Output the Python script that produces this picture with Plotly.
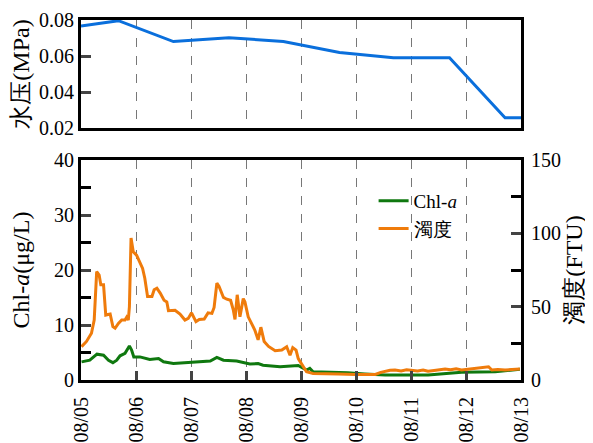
import pandas as pd
import plotly.graph_objects as go

BASE = pd.Timestamp("2023-08-05")

# Water pressure (MPa)
pressure_day = [0.0, 0.68, 1.68, 2.69, 3.68, 4.70, 5.68, 6.70, 7.71, 8.0]
pressure_val = [0.0767, 0.0796, 0.068, 0.0702, 0.068, 0.062, 0.059, 0.059, 0.0257, 0.0257]

# Chl-a (ug/L)
chl_day = [0.01, 0.16, 0.29, 0.41, 0.50, 0.58, 0.65, 0.71, 0.80, 0.88, 0.92, 0.96, 1.07, 1.25,
           1.41, 1.50, 1.68, 2.04, 2.35, 2.47, 2.59, 2.83, 3.07, 3.22, 3.31, 3.62, 3.86, 3.95,
           4.10, 4.16, 4.22, 4.45, 4.68, 4.85, 5.16, 5.53, 6.31, 6.92, 7.53, 7.98]
chl_val = [3.3, 3.6, 4.7, 4.5, 3.6, 3.15, 3.6, 4.4, 4.85, 6.2, 5.45, 4.2, 4.2, 3.75,
           3.9, 3.3, 3.0, 3.3, 3.45, 4.1, 3.6, 3.45, 2.9, 3.0, 2.7, 2.4, 2.6, 2.65,
           1.8, 2.1, 1.5, 1.45, 1.35, 1.3, 1.1, 0.9, 0.9, 1.4, 1.5, 1.95]

# Turbidity (FTU)
turb_day = [0.01, 0.10, 0.19, 0.24, 0.285, 0.33, 0.36, 0.41, 0.45, 0.53, 0.58, 0.62, 0.68, 0.74,
            0.80, 0.83, 0.86, 0.88, 0.91, 0.95, 1.01, 1.07, 1.12, 1.16, 1.21, 1.29, 1.33, 1.38,
            1.44, 1.51, 1.56, 1.59, 1.71, 1.80, 1.89, 1.95, 2.01, 2.09, 2.15, 2.24, 2.31, 2.38,
            2.42, 2.47, 2.51, 2.59, 2.65, 2.72, 2.77, 2.80, 2.84, 2.89, 2.95, 2.98, 3.04, 3.10,
            3.16, 3.22, 3.27, 3.33, 3.41, 3.53, 3.65, 3.74, 3.80, 3.85, 3.91, 3.95, 4.04, 4.10,
            4.22, 4.47, 4.68, 5.00, 5.35, 5.45, 5.53, 5.62, 5.71, 5.82, 5.92, 6.01, 6.12, 6.22,
            6.31, 6.42, 6.52, 6.62, 6.72, 6.82, 6.92, 7.04, 7.16, 7.28, 7.41, 7.47, 7.58, 7.71,
            7.85, 7.98]
turb_val = [22.7, 26.3, 31.9, 40.9, 73.9, 71.6, 64.9, 64.9, 44.3, 45.0, 36.4, 35.3, 38.6, 40.9,
            40.9, 42.8, 40.9, 49.9, 96.8, 87.4, 85.1, 79.5, 76.1, 69.4, 57.0, 57.0, 61.5, 62.6,
            59.3, 54.4, 53.3, 47.3, 47.6, 45.0, 40.9, 42.0, 45.8, 39.8, 41.3, 41.6, 45.8, 45.4,
            49.5, 66.0, 63.8, 56.3, 55.1, 54.4, 47.6, 41.3, 58.1, 43.1, 55.5, 53.3, 43.1, 38.6,
            34.1, 27.4, 36.0, 26.3, 22.9, 19.9, 20.4, 22.7, 16.9, 22.1, 20.4, 14.6, 9.0, 5.6,
            4.5, 4.1, 4.1, 3.8, 3.8, 5.2, 6.0, 6.6, 6.8, 6.2, 7.0, 6.8, 6.2, 6.8,
            6.0, 6.5, 7.2, 7.5, 7.0, 7.6, 6.8, 7.4, 7.9, 8.2, 9.0, 6.8, 7.2, 6.8,
            7.2, 7.5]

x_ticks = ["08/05", "08/06", "08/07", "08/08", "08/09", "08/10", "08/11", "08/12", "08/13"]


def to_time(days):
    return [BASE + pd.Timedelta(days=d) for d in days]


SERIF = "Times New Roman, Liberation Serif, DejaVu Serif, serif"
BLUE = "#0a6fdc"
GREEN = "#0f780f"
ORANGE = "#ef7b0b"

fig = go.Figure()
fig.add_trace(go.Scatter(x=to_time(pressure_day), y=pressure_val, mode="lines",
                         line=dict(color=BLUE, width=3), xaxis="x", yaxis="y",
                         showlegend=False))
fig.add_trace(go.Scatter(x=to_time(chl_day), y=chl_val, mode="lines", name="Chl-<i>a</i>",
                         line=dict(color=GREEN, width=3), xaxis="x2", yaxis="y2"))
fig.add_trace(go.Scatter(x=to_time(turb_day), y=turb_val, mode="lines", name="濁度",
                         line=dict(color=ORANGE, width=3), xaxis="x2", yaxis="y3"))

tickvals = [BASE + pd.Timedelta(days=i) for i in range(len(x_ticks))]
xrange = [BASE, BASE + pd.Timedelta(days=8)]
grid = dict(showgrid=True, gridcolor="#777777", gridwidth=1, griddash="dash")

fig.update_layout(
    width=585, height=435,
    margin=dict(l=73, r=72, t=12, b=63),
    plot_bgcolor="white", paper_bgcolor="white",
    font=dict(family=SERIF, size=20, color="black"),
    xaxis=dict(domain=[0, 1], anchor="y", range=xrange, tickvals=tickvals,
               showticklabels=False, ticks="", showline=True, linecolor="black",
               linewidth=3, mirror=True, zeroline=False, automargin=False, **grid),
    yaxis=dict(domain=[0.70, 1.0], anchor="x", range=[0.02, 0.08], dtick=0.02,
               tickformat=".2f", ticks="inside", ticklen=10, tickwidth=3,
               showline=True, linecolor="black", linewidth=3, mirror=True,
               showgrid=False, zeroline=False, automargin=False,
               title=dict(text="水压(MPa)", standoff=4)),
    xaxis2=dict(domain=[0, 1], anchor="y2", range=xrange, tickvals=tickvals,
                ticktext=x_ticks, tickangle=-90, ticks="inside", ticklen=9, tickwidth=3,
                ticklabelstandoff=6,
                showline=True, linecolor="black", linewidth=3, mirror=True,
                zeroline=False, automargin=False, **grid),
    yaxis2=dict(domain=[0, 0.611], anchor="x2", range=[0, 40], dtick=10,
                ticks="inside", ticklen=10, tickwidth=3,
                minor=dict(dtick=5, ticks="inside", ticklen=10, tickwidth=3, tickcolor="black"),
                showline=True, linecolor="black", linewidth=3, showgrid=False,
                zeroline=False, automargin=False,
                title=dict(text="Chl-<i>a</i>(μg/L)", standoff=20)),
    yaxis3=dict(overlaying="y2", anchor="x2", side="right", range=[0, 150], dtick=50,
                ticks="inside", ticklen=10, tickwidth=3, ticklabelstandoff=3,
                minor=dict(dtick=25, ticks="inside", ticklen=10, tickwidth=3, tickcolor="black"),
                showline=True, linecolor="black", linewidth=3, showgrid=False,
                zeroline=False, automargin=False,
                title=dict(text="濁度(FTU)", standoff=5)),
    legend=dict(x=0.665, y=0.55, xanchor="left", yanchor="top", bgcolor="rgba(0,0,0,0)",
                font=dict(size=19), tracegroupgap=0, itemwidth=30),
)

fig.write_html("out.html")
